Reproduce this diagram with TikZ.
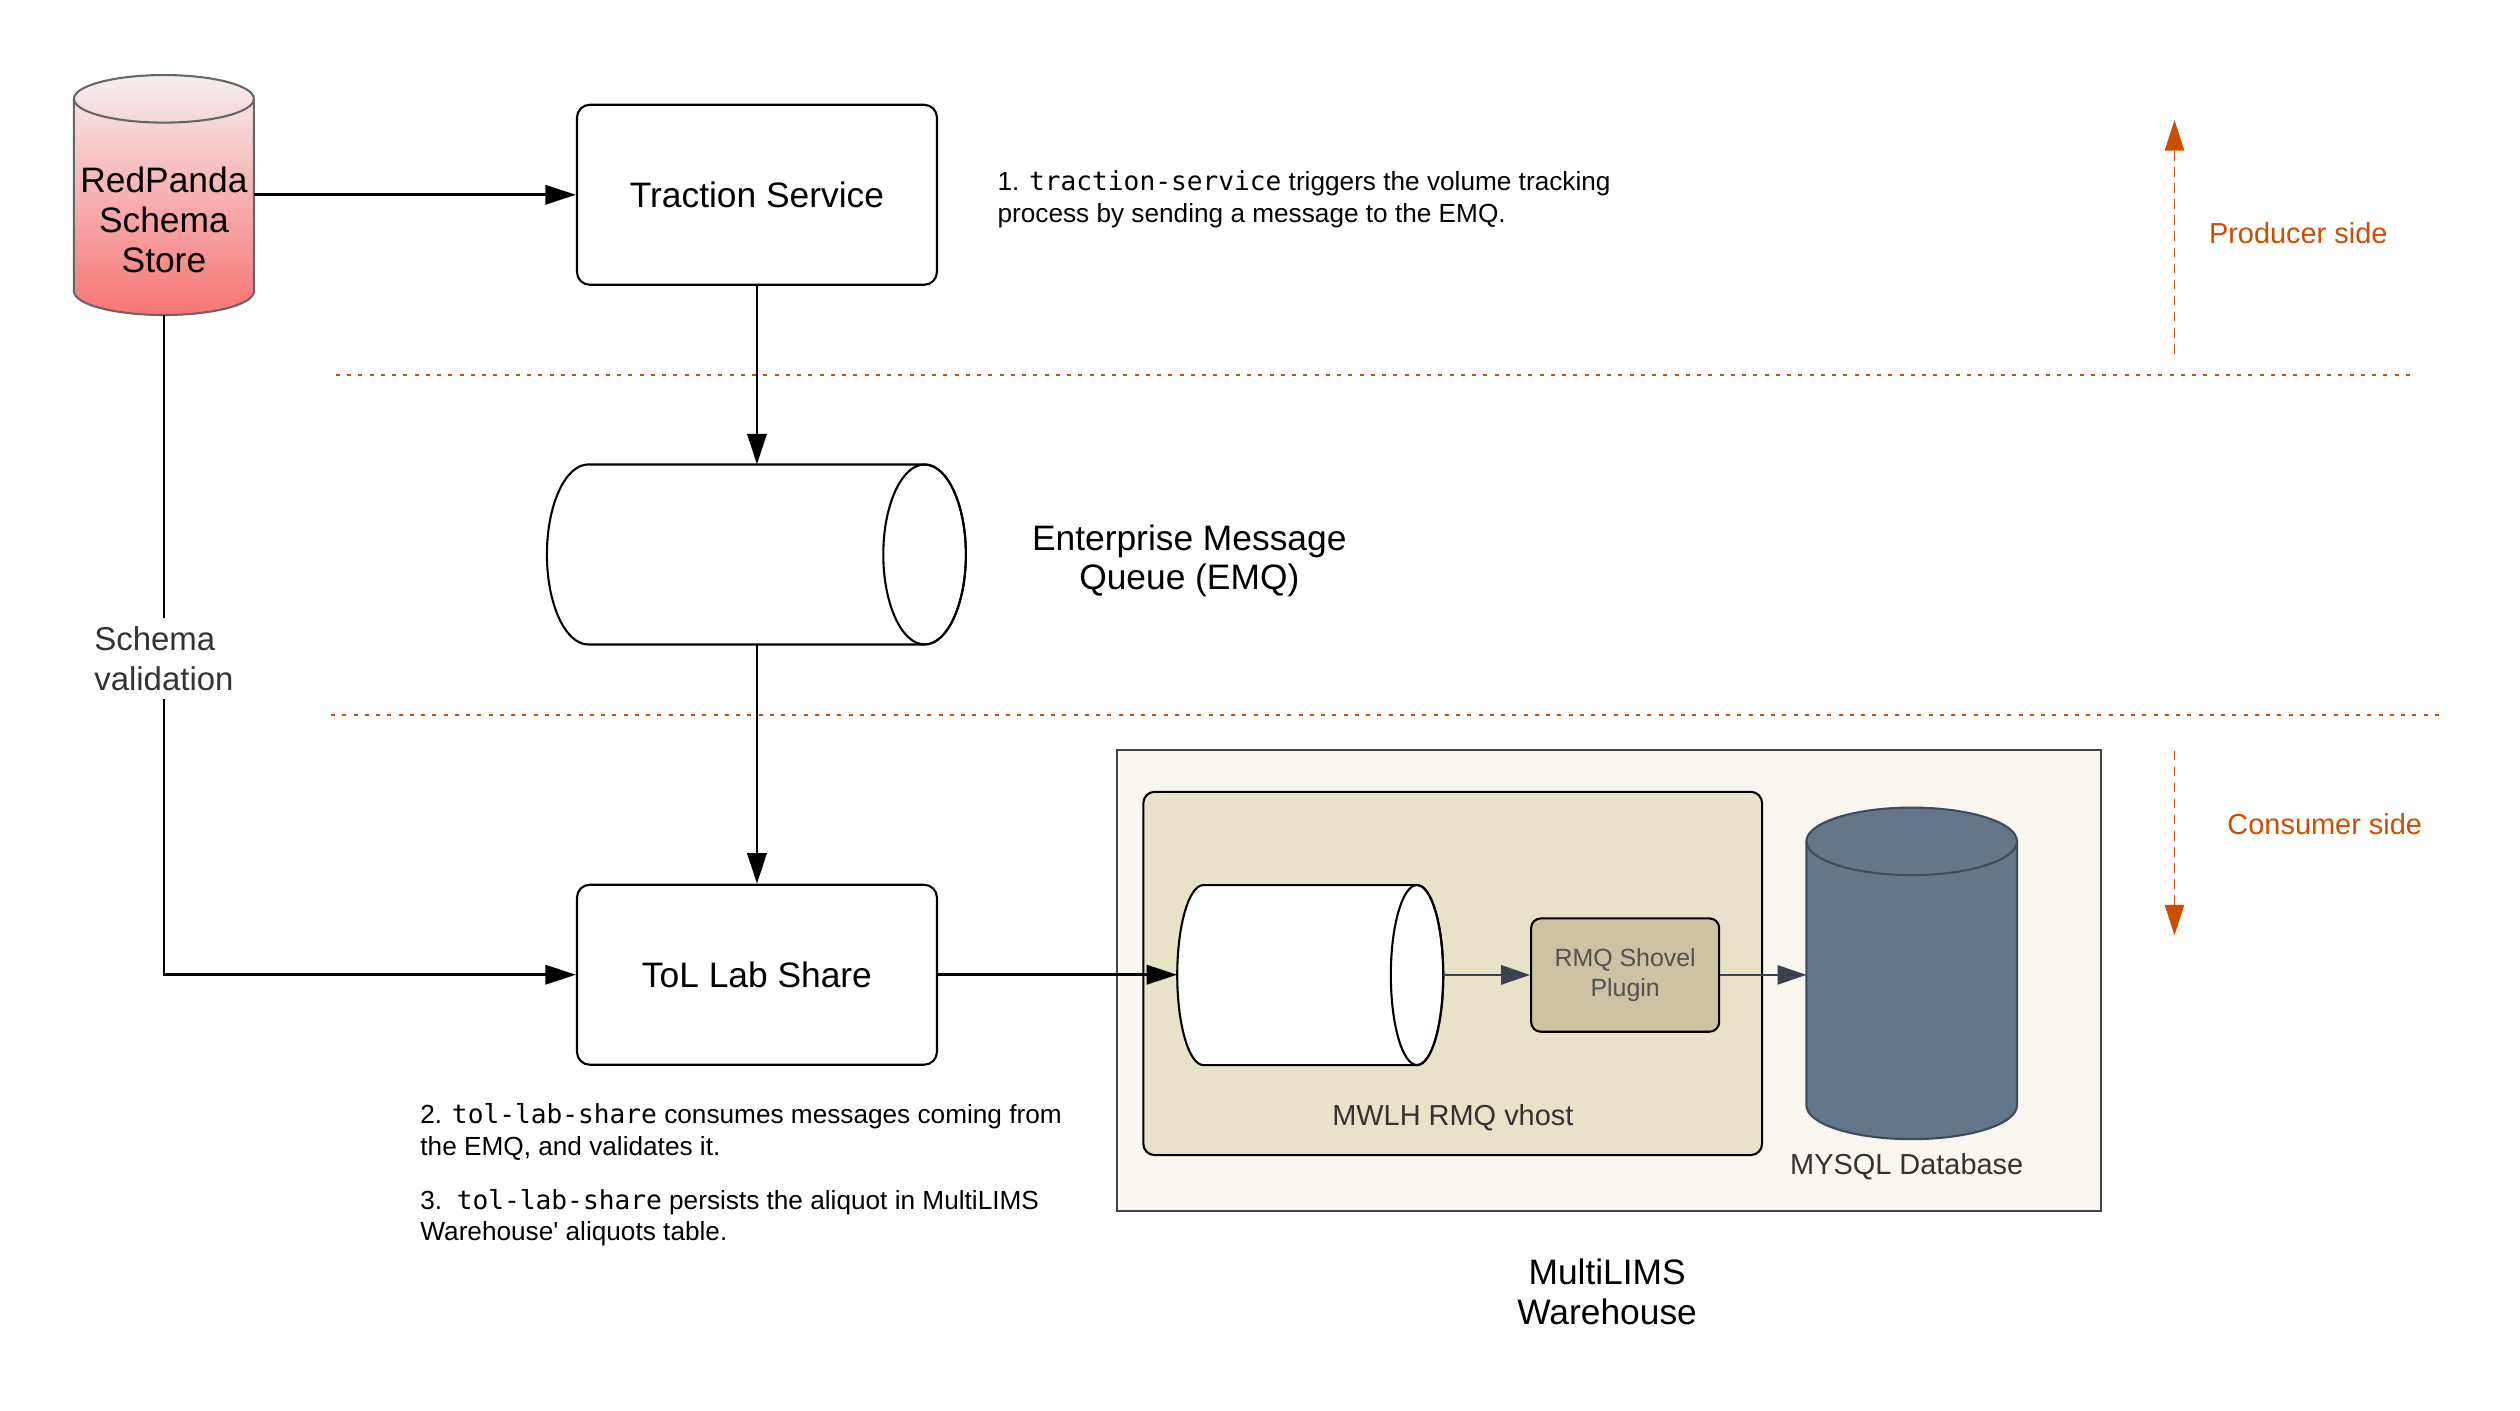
\documentclass[tikz,border=0pt]{standalone}
\usepackage{fontspec}
\setmainfont{Liberation Sans}
\setmonofont{DejaVu Sans Mono}
\usetikzlibrary{arrows.meta,positioning}
\definecolor{sideorange}{HTML}{CC4E00}
\definecolor{pandatop}{HTML}{F5EEF0}
\definecolor{pandabot}{HTML}{F87474}
\definecolor{pandaline}{HTML}{666666}
\definecolor{whfill}{HTML}{F8F6EE}
\definecolor{whline}{HTML}{444444}
\definecolor{vhostfill}{HTML}{E8E2C8}
\definecolor{plugfill}{HTML}{CCC3A3}
\definecolor{dbfill}{HTML}{647689}
\definecolor{dbline}{HTML}{3D4B5C}
\definecolor{darkarrow}{HTML}{3A4250}
\definecolor{labelgray}{HTML}{333333}
\tikzset{
  bigfont/.style={font=\fontsize{22}{24.8}\selectfont},
  notefont/.style={font=\fontsize{16.3}{19.8}\selectfont},
  midfont/.style={font=\fontsize{18}{21.6}\selectfont},
  box/.style={draw, rounded corners=8pt, line width=1.3pt, minimum width=224pt, minimum height=112pt, inner sep=0pt, bigfont},
  hold/.style={inner sep=0pt, outer sep=0pt},
  link/.style={line width=1.6pt},
  flow/.style={link, -{Triangle[length=19pt,width=12pt]}},
  thinflow/.style={draw=darkarrow, line width=1.1pt, -{Triangle[length=18pt,width=12pt]}},
  sidearrow/.style={draw=sideorange, line width=1pt, dash pattern=on 6pt off 4pt, -{Triangle[length=19pt,width=12pt]}},
  sep/.style={draw=sideorange, line width=1.4pt, dash pattern=on 2.5pt off 4.5pt},
  note/.style={notefont, align=left, anchor=west, inner sep=0pt},
  sidetext/.style={midfont, text=sideorange},
}
\begin{document}
\begin{tikzpicture}[x=1pt,y=-1pt]
\useasboundingbox (0,0) rectangle (1568,877.35);
\fill[white] (0,0) rectangle (1568,877.35);
\draw[sep] (209,233.4) -- (1500,233.4);
\draw[sep] (206,445) -- (1522,445);
\node (warehouse) [draw=whline, fill=whfill, line width=1.3pt, minimum width=612pt, minimum height=286.7pt] at (1001,610) {};
\node (vhost) [draw, fill=vhostfill, line width=1.3pt, rounded corners=7pt, minimum width=385pt, minimum height=226pt] at (903.9,605.7) {};
\shadedraw[top color=pandatop, bottom color=pandabot, draw=pandaline, line width=1.3pt] (46,61.5) -- (46,181.2) arc[start angle=180, end angle=360, x radius=56pt, y radius=14.8pt] -- (158,61.5) arc[start angle=0, end angle=180, x radius=56pt, y radius=14.8pt] -- cycle;
\draw[pandaline, line width=1.3pt] (46,61.5) arc[start angle=180, end angle=360, x radius=56pt, y radius=14.8pt];
\filldraw[fill=white, line width=1.3pt] (366,289) -- (575.3,289) arc[start angle=90, end angle=-90, x radius=25.7pt, y radius=56pt] -- (366,401) arc[start angle=270, end angle=90, x radius=25.7pt, y radius=56pt] -- cycle;
\draw[line width=1.3pt] (575.3,345) ellipse[x radius=25.7pt, y radius=56pt];
\filldraw[fill=white, line width=1.3pt] (748.8,550.7) -- (881.7,550.7) arc[start angle=90, end angle=-90, x radius=16.3pt, y radius=56pt] -- (748.8,662.7) arc[start angle=270, end angle=90, x radius=16.3pt, y radius=56pt] -- cycle;
\draw[line width=1.3pt] (881.7,606.7) ellipse[x radius=16.3pt, y radius=56pt];
\filldraw[fill=dbfill, draw=dbline, line width=1.3pt] (1124,523.5) -- (1124,687.8) arc[start angle=180, end angle=360, x radius=65.5pt, y radius=21pt] -- (1255,523.5) arc[start angle=0, end angle=180, x radius=65.5pt, y radius=21pt] -- cycle;
\draw[dbline, line width=1.3pt] (1124,523.5) arc[start angle=180, end angle=360, x radius=65.5pt, y radius=21pt];
\node (store) [hold, minimum width=112pt, minimum height=149.3pt] at (102,121.35) {};
\node (emq) [hold, minimum width=260.6pt, minimum height=112pt] at (471,345) {};
\node (queue) [hold, minimum width=165.5pt, minimum height=112pt] at (815.2,606.5) {};
\node (mysql) [hold, minimum width=131pt, minimum height=206pt] at (1189.5,606.5) {};
\node (storetxt) [bigfont, align=center, inner sep=0pt] at (102,137) {RedPanda\\Schema\\Store};
\node (traction) [box] at (471,121.2) {Traction Service};
\node (tol) [box] at (471,606.5) {ToL Lab Share};
\node (plugin) [draw, fill=plugfill, line width=1.3pt, rounded corners=6pt, minimum width=117pt, minimum height=70.5pt, inner sep=0pt, align=center, text=labelgray!85, font=\fontsize{15.5}{19}\selectfont] at (1011.2,606.7) {RMQ Shovel\\Plugin};
\node (emqlbl) [bigfont, align=center] at (740,349) {Enterprise Message\\Queue (EMQ)};
\node (schemalbl) [font=\fontsize{20.5}{25.1}\selectfont, text=labelgray, align=left, inner xsep=0pt, minimum height=50pt] at (102,410) {Schema\\validation};
\node (vhostlbl) [midfont, text=labelgray] at (904,695.5) {MWLH RMQ vhost};
\node (mysqllbl) [midfont, text=labelgray] at (1186.4,726) {MYSQL Database};
\node (warehouselbl) [bigfont, align=center] at (1000,804) {MultiLIMS\\Warehouse};
\node (producer) [sidetext] at (1430,145) {Producer side};
\node (consumer) [sidetext] at (1446.5,513) {Consumer side};
\node (note1) [note] at (620.5,124) {1. \texttt{traction-service} triggers the volume tracking\\process by sending a message to the EMQ.};
\node (note2) [note] at (261.4,704.3) {2. \texttt{tol-lab-share} consumes messages coming from\\the EMQ, and validates it.};
\node (note3) [note] at (261.4,757.7) {3.\ \ \texttt{tol-lab-share} persists the aliquot in MultiLIMS\\Warehouse\textquotesingle\ aliquots table.};
\draw[flow] (store.east |- traction) -- (traction);
\draw[flow] (traction) -- (emq);
\draw[flow] (emq) -- (tol);
\draw[link] (store.south) -- (schemalbl.north);
\draw[flow] (schemalbl.south) |- (tol.west);
\draw[flow] (tol) -- (queue);
\draw[thinflow] (queue) -- (plugin);
\draw[thinflow] (plugin) -- (mysql);
\coordinate (prodtail) at (1353,220);
\coordinate (prodtip) at (1353,74.7);
\draw[sidearrow] (prodtail) -- (prodtip);
\coordinate (constail) at (1353,467);
\coordinate (constip) at (1353,582);
\draw[sidearrow] (constail) -- (constip);
\end{tikzpicture}
\end{document}
